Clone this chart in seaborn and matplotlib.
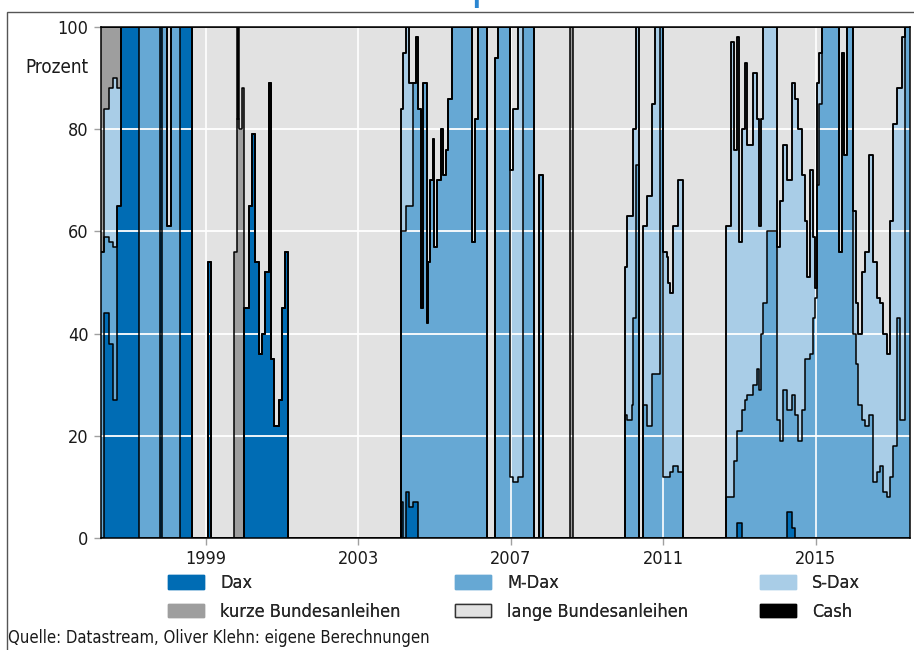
import matplotlib
matplotlib.use("Agg")
import matplotlib.pyplot as plt
from matplotlib import font_manager
from matplotlib.patches import Patch, Rectangle
from matplotlib.transforms import blended_transform_factory
import pandas as pd
import seaborn as sns

# start of each allocation period (decimal years), held until the next start
starts = [
    1996.244, 1996.323, 1996.454, 1996.559, 1996.664, 1996.769, 1997.241, 1997.793, 1997.853, 1997.976,
    1998.081, 1998.318, 1998.633, 1999.052, 1999.144, 1999.727, 1999.814, 1999.874, 1999.945, 1999.990,
    2000.121, 2000.207, 2000.294, 2000.383, 2000.470, 2000.556, 2000.646, 2000.714, 2000.777, 2000.908,
    2000.995, 2001.066, 2001.152, 2004.110, 2004.179, 2004.249, 2004.328, 2004.425, 2004.512, 2004.572,
    2004.643, 2004.696, 2004.808, 2004.835, 2004.879, 2004.950, 2004.992, 2005.071, 2005.160, 2005.213,
    2005.299, 2005.360, 2005.449, 2005.974, 2006.060, 2006.147, 2006.383, 2006.585, 2006.672, 2006.979,
    2007.066, 2007.197, 2007.312, 2007.617, 2007.748, 2007.853, 2008.554, 2008.640, 2009.997, 2010.058,
    2010.173, 2010.215, 2010.286, 2010.373, 2010.478, 2010.567, 2010.698, 2010.785, 2010.916, 2011.003,
    2011.092, 2011.139, 2011.178, 2011.249, 2011.396, 2011.528, 2012.640, 2012.772, 2012.858, 2012.929,
    2012.997, 2013.060, 2013.147, 2013.207, 2013.365, 2013.454, 2013.522, 2013.559, 2013.627, 2013.717,
    2013.979, 2014.066, 2014.152, 2014.257, 2014.373, 2014.459, 2014.546, 2014.635, 2014.722, 2014.782,
    2014.853, 2014.924, 2014.992, 2015.045, 2015.097, 2015.160, 2015.622, 2015.701, 2015.753, 2015.816,
    2015.990, 2016.053, 2016.121, 2016.210, 2016.297, 2016.409, 2016.499, 2016.604, 2016.690, 2016.777,
    2016.866, 2016.953, 2017.039, 2017.144, 2017.215, 2017.260, 2017.346,
]
end_year = 2017.478

# shares in percent; "lange Bundesanleihen" is what is left up to 100
dax = [
    0, 44, 38, 27, 65, 100, 0, 100, 0, 0,
    0, 100, 0, 54, 0, 0, 0, 0, 0, 45,
    65, 79, 54, 36, 40, 52, 89, 35, 22, 27,
    45, 56, 0, 7, 0, 9, 6, 7, 7, 0,
    0, 0, 0, 0, 0, 0, 0, 0, 0, 0,
    0, 0, 0, 0, 0, 0, 0, 0, 0, 0,
    0, 0, 0, 0, 0, 0, 0, 0, 0, 0,
    0, 0, 0, 0, 0, 0, 0, 0, 0, 0,
    0, 0, 0, 0, 0, 0, 0, 0, 0, 3,
    3, 0, 0, 0, 0, 0, 0, 0, 0, 0,
    0, 0, 0, 5, 2, 0, 0, 0, 0, 0,
    0, 0, 0, 0, 0, 0, 0, 0, 0, 0,
    0, 0, 0, 0, 0, 0, 0, 0, 0, 0,
    0, 0, 0, 0, 0, 0, 0,
]
mdax = [
    56, 15, 20, 30, 0, 0, 100, 0, 100, 61,
    100, 0, 0, 0, 0, 0, 0, 0, 0, 0,
    0, 0, 0, 0, 0, 0, 0, 0, 0, 0,
    0, 0, 0, 53, 60, 56, 59, 82, 91, 84,
    45, 89, 42, 54, 70, 78, 57, 70, 80, 71,
    76, 86, 100, 58, 82, 100, 0, 94, 100, 12,
    11, 12, 100, 0, 71, 0, 0, 0, 24, 23,
    26, 43, 73, 0, 26, 22, 32, 32, 100, 12,
    12, 12, 13, 14, 13, 0, 8, 8, 15, 18,
    18, 25, 27, 28, 30, 33, 29, 40, 46, 60,
    23, 19, 29, 20, 26, 24, 19, 25, 35, 35,
    36, 43, 47, 69, 85, 100, 56, 95, 75, 100,
    40, 34, 26, 23, 22, 24, 11, 13, 14, 9,
    8, 12, 18, 43, 23, 23, 100,
]
sdax = [
    0, 25, 30, 33, 23, 0, 0, 0, 0, 0,
    0, 0, 0, 0, 0, 0, 0, 0, 0, 0,
    0, 0, 0, 0, 0, 0, 0, 0, 0, 0,
    0, 0, 0, 24, 35, 35, 24, 0, 0, 0,
    0, 0, 0, 0, 0, 0, 0, 0, 0, 0,
    0, 0, 0, 0, 0, 0, 0, 0, 0, 60,
    73, 88, 0, 0, 0, 0, 0, 0, 29, 40,
    37, 37, 27, 0, 35, 45, 53, 68, 0, 44,
    43, 38, 35, 47, 57, 0, 53, 89, 61, 77,
    37, 55, 66, 49, 61, 49, 32, 42, 54, 40,
    34, 47, 48, 45, 61, 62, 61, 46, 27, 16,
    36, 16, 2, 20, 10, 0, 0, 0, 0, 0,
    24, 12, 14, 29, 34, 51, 43, 34, 32, 31,
    28, 50, 63, 45, 65, 75, 0,
]
kurz = [
    44, 16, 12, 10, 12, 0, 0, 0, 0, 0,
    0, 0, 0, 0, 0, 56, 82, 80, 88, 0,
    0, 0, 0, 0, 0, 0, 0, 0, 0, 0,
    0, 0, 0, 0, 0, 0, 0, 0, 0, 0,
    0, 0, 0, 0, 0, 0, 0, 0, 0, 0,
    0, 0, 0, 0, 0, 0, 0, 0, 0, 0,
    0, 0, 0, 0, 0, 0, 100, 0, 0, 0,
    0, 0, 0, 0, 0, 0, 0, 0, 0, 0,
    0, 0, 0, 0, 0, 0, 0, 0, 0, 0,
    0, 0, 0, 0, 0, 0, 0, 0, 0, 0,
    0, 0, 0, 0, 0, 0, 0, 0, 0, 0,
    0, 0, 0, 0, 0, 0, 0, 0, 0, 0,
    0, 0, 0, 0, 0, 0, 0, 0, 0, 0,
    0, 0, 0, 0, 0, 0, 0,
]
cash = [
    0, 0, 0, 0, 0, 0, 0, 0, 0, 0,
    0, 0, 0, 0, 0, 0, 18, 0, 0, 0,
    0, 0, 0, 0, 0, 0, 0, 0, 0, 0,
    0, 0, 0, 0, 0, 0, 0, 0, 0, 0,
    0, 0, 0, 0, 0, 0, 0, 0, 0, 0,
    0, 0, 0, 0, 0, 0, 0, 0, 0, 0,
    0, 0, 0, 0, 0, 0, 0, 0, 0, 0,
    0, 0, 0, 0, 0, 0, 0, 0, 0, 0,
    0, 0, 0, 0, 0, 0, 0, 0, 0, 0,
    0, 0, 0, 0, 0, 0, 0, 0, 0, 0,
    0, 0, 0, 0, 0, 0, 0, 0, 0, 0,
    0, 0, 0, 0, 0, 0, 0, 0, 0, 0,
    0, 0, 0, 0, 0, 0, 0, 0, 0, 0,
    0, 0, 0, 0, 0, 0, 0,
]

year_ticks = [1999, 2003, 2007, 2011, 2015]
pct_ticks = [0, 20, 40, 60, 80, 100]

labels = ["Dax", "M-Dax", "S-Dax", "kurze Bundesanleihen", "lange Bundesanleihen", "Cash"]
colors = ["#006cb4", "#66a8d4", "#a9cde7", "#9e9e9e", "#e2e2e2", "#000000"]

df = pd.DataFrame({"Dax": dax, "M-Dax": mdax, "S-Dax": sdax,
                   "kurze Bundesanleihen": kurz, "Cash": cash}, index=starts)
df["lange Bundesanleihen"] = 100 - df.sum(axis=1)
df = df[labels]
# repeat last row at the end date so the final step has a width
df.loc[end_year] = df.iloc[-1]
x = df.index.values

sns.set_theme(style="white")
names = {f.name for f in font_manager.fontManager.ttflist}
if "Liberation Sans Narrow" in names:
    plt.rcParams["font.family"] = ["Liberation Sans Narrow", "DejaVu Sans"]
else:
    plt.rcParams["font.family"] = ["DejaVu Sans"]
    plt.rcParams["font.stretch"] = "condensed"

fig = plt.figure(figsize=(9.14, 6.5), dpi=100)
ax = fig.add_axes([101 / 914, 112 / 650, 809 / 914, 511 / 650])

# stacked step areas
bottom = pd.Series(0.0, index=df.index)
tops = []
for lab, col in zip(labels, colors):
    top = bottom + df[lab]
    ax.fill_between(x, bottom.values, top.values, step="post", color=col, lw=0, zorder=1)
    tops.append(top)
    bottom = top

# white grid under the black outlines
for yv in pct_ticks[1:-1]:
    ax.axhline(yv, color="white", lw=1.3, zorder=2)
for xv in year_ticks:
    ax.axvline(xv, color="white", lw=1.2, zorder=2)

# black outlines of every layer boundary
for top in tops[:-1]:
    sns.lineplot(x=x, y=top.values, drawstyle="steps-post", color="black", lw=1.1,
                 estimator=None, sort=False, ax=ax, zorder=3, legend=False)

ax.set_xlim(starts[0], end_year)
ax.set_ylim(0, 100)
ax.set_xticks(year_ticks)
ax.set_xticklabels([str(y) for y in year_ticks])
ax.set_yticks(pct_ticks)
ax.set_yticklabels([str(p) for p in pct_ticks])
ax.set_xlabel("")
ax.set_ylabel("")
ax.tick_params(axis="both", bottom=True, left=True, length=5, width=1, color="#a0a0a0",
               labelsize=13, labelcolor="#1a1a1a", pad=4)
for sp in ax.spines.values():
    sp.set_color("black")
    sp.set_linewidth(1.1)
    sp.set_zorder(4)

trans = blended_transform_factory(ax.transAxes, ax.transData)
ax.text(-0.016, 92, "Prozent", transform=trans, ha="right", va="center",
        fontsize=13.5, color="#1a1a1a")

# legend in three columns of two entries
handles = []
for lab, col in zip(labels, colors):
    ec = "#333333" if lab == "lange Bundesanleihen" else col
    handles.append(Patch(facecolor=col, edgecolor=ec, lw=1.0, label=lab))
col_x = [168, 455, 760]
for i, cx in enumerate(col_x):
    pair = [handles[i], handles[i + 3]]
    leg = fig.legend(handles=pair, loc="upper left", bbox_to_anchor=(cx / 914, 1 - 574 / 650),
                     frameon=False, fontsize=13, handlelength=2.0, handleheight=0.8,
                     handletextpad=0.9, labelspacing=0.6, borderpad=0, borderaxespad=0)
    fig.add_artist(leg)

fig.text(8 / 914, 1 - 638 / 650, "Quelle: Datastream, Oliver Klehn: eigene Berechnungen",
         ha="left", va="center", fontsize=12, color="#1a1a1a")

# outer frame and the title above it, which the crop cuts off
fig.add_artist(Rectangle((7 / 914, -0.05), 1.2, 1.05 - 12 / 650, transform=fig.transFigure,
                         fill=False, edgecolor="#555555", lw=1.0))
fig.text(470 / 914, 1.0 + 2 / 650, "p", color="#2a86d1", fontsize=34, va="baseline", ha="left")

fig.savefig("out.png", dpi=100)
